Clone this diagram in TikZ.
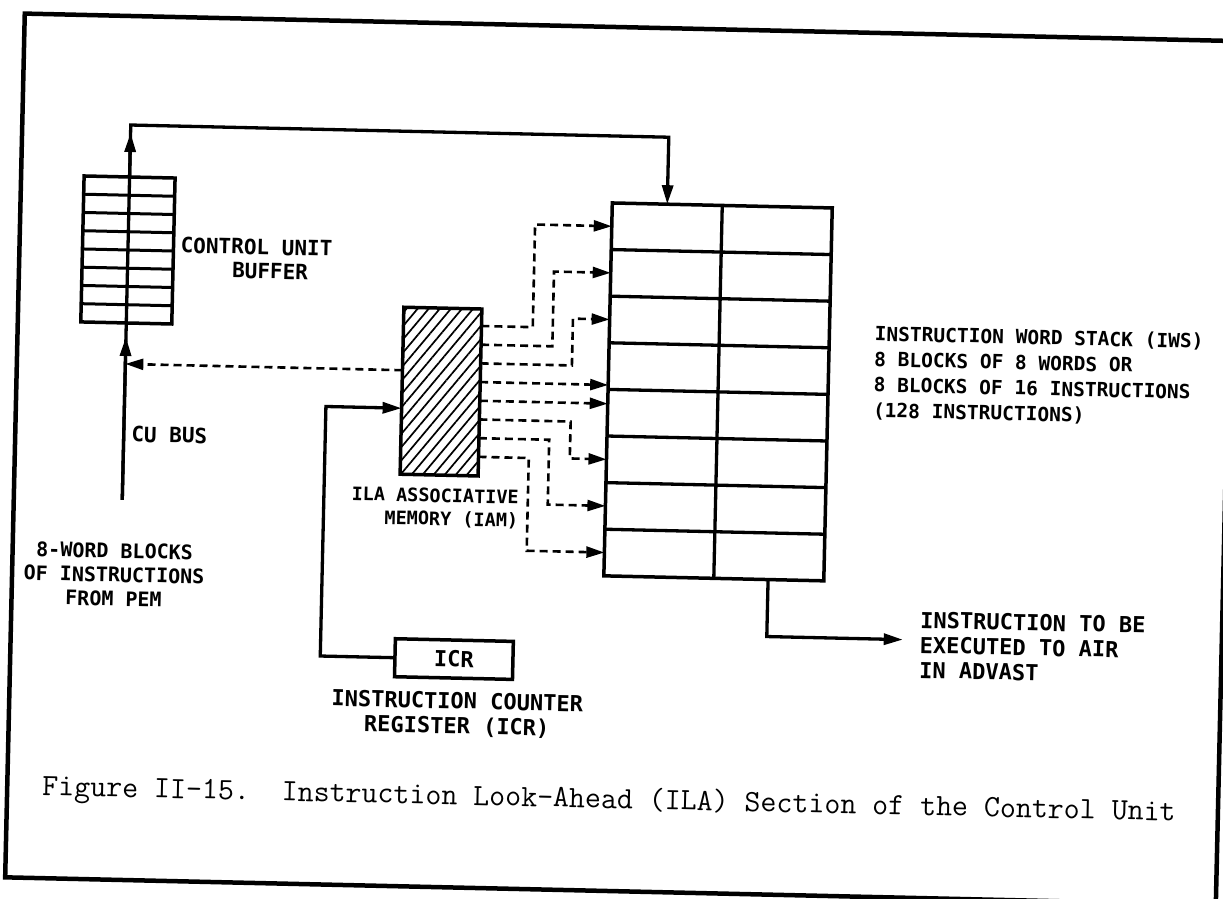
\documentclass[tikz,border=0pt]{standalone}
\usepackage{fontspec}
\usetikzlibrary{arrows.meta,patterns.meta,calc}
\newfontfamily\lettering{DejaVu Sans Mono}
\begin{document}
\begin{tikzpicture}[x=1pt,y=-1pt,
  box/.style={draw, line width=3.5pt, inner sep=0pt, outer sep=0pt},
  conn/.style={line width=3.3pt},
  tipa/.style={-{Triangle[length=19pt,width=11pt]}},
  dconn/.style={line width=2.6pt, dash pattern=on 8pt off 5pt, -{Triangle[length=18pt,width=11pt]}},
  lab/.style={font=\lettering\bfseries\fontsize{21}{24}\selectfont, inner sep=0pt, align=center},
  labs/.style={font=\lettering\bfseries\fontsize{19.5}{25.5}\selectfont, inner sep=0pt, align=left},
  labm/.style={font=\lettering\bfseries\fontsize{18.5}{23}\selectfont, inner sep=0pt},
  labb/.style={font=\lettering\bfseries\fontsize{22}{25}\selectfont, inner sep=0pt},
]
\useasboundingbox (0,0) rectangle (1223,899);
\fill[white] (0,0) rectangle (1223,899);
\begin{scope}[rotate around={-1.3:(612,450)}, transform shape]
  % frame
  \draw[line width=4.5pt] (15,891) -- (15,27) -- (1226,27) -- (1226,891) -- cycle;

  % control unit buffer
  \node[box, minimum width=91pt, minimum height=146pt] (buf) at (123.5,261) {};
  \foreach \k in {1,...,7}
    \draw[line width=3pt] ($(buf.north west)+(0,\k*18.25)$) -- ($(buf.north east)+(0,\k*18.25)$);
  \draw[conn] (buf.north) -- (buf.south);

  % instruction word stack
  \node[box, minimum width=220pt, minimum height=373pt] (iws) at (716.7,389.5) {};
  \foreach \k in {1,...,7}
    \draw[line width=3.3pt] ($(iws.north west)+(0,\k*46.625)$) -- ($(iws.north east)+(0,\k*46.625)$);
  \draw[conn] (iws.north) -- (iws.south);

  % associative memory
  \node[box, minimum width=78pt, minimum height=167pt,
        pattern={Lines[angle=50,distance=8.5pt,line width=1.7pt]}] (iam) at (439.7,395.5) {};

  % instruction counter register
  \node[box, labb, minimum width=118pt, minimum height=38pt] (icr) at (458.7,662.6) {ICR};

  % labels
  \node[lab, anchor=west] (bufl) at (176,255) {CONTROL UNIT};
  \node[lab, anchor=west] (bufl2) at (228,279) {BUFFER};
  \node[lab, anchor=west] (cubus) at (131,445) {CU BUS};
  \node[lab, font=\lettering\bfseries\fontsize{20}{24}\selectfont] (peml) at (117,586) {8-WORD BLOCKS\\OF INSTRUCTIONS\\FROM PEM};
  \node[labm, align=right, anchor=east] (iaml) at (520,512) {ILA ASSOCIATIVE\\MEMORY (IAM)};
  \node[labb, align=center] (icrl) at (463,718) {INSTRUCTION COUNTER\\REGISTER (ICR)};
  \node[labs, anchor=west] (iwsl) at (872,367) {INSTRUCTION WORD STACK (IWS)\\8 BLOCKS OF 8 WORDS OR\\8 BLOCKS OF 16 INSTRUCTIONS\\(128 INSTRUCTIONS)};
  \node[labb, align=left, anchor=west] (outl) at (924,638) {INSTRUCTION TO BE\\EXECUTED TO AIR\\IN ADVAST};
  \node[anchor=west, inner sep=0pt, font=\ttfamily\fontsize{31}{31}\selectfont] (cap) at (50,801)
    {Figure II-15.~~Instruction Look-Ahead (ILA) Section of the Control Unit};

  % CU bus into buffer
  \coordinate (busstart) at (123.5,511);
  \draw[conn] (busstart) -- (buf.south);
  \draw[conn, tipa] (busstart) -- ($(buf.south)+(0,14)$);

  % buffer to IWS
  \coordinate (tl) at (123.5,136);
  \coordinate (iwsin) at ($(iws.north west)+(55,0)$);
  \draw[conn, tipa] (buf.north) -- (buf.north |- tl) -- (iwsin |- tl) -- (iwsin);
  \draw[conn, tipa] (buf.north) -- ($(buf.north)+(0,-44)$);

  % IAM to buffer bus (dashed)
  \coordinate (dl) at ($(iam.north west)+(0,63)$);
  \draw[dconn] (dl) -- (dl -| buf.south);

  % ICR to IAM
  \coordinate (iin) at ($(iam.north west)+(0,101)$);
  \coordinate (jx) at (325,0);
  \draw[conn, tipa] (icr.west) -- (icr.west -| jx) -- (jx |- iin) -- (iin);

  % IAM to IWS rows (dashed)
  \foreach \k in {1,...,8}
    \coordinate (s\k) at ($(iam.north east)+(0,17+\k*18.7-18.7)$);
  \foreach \r in {1,2,3,6,7,8}
    \coordinate (t\r) at ($(iws.north west)+(0,23.3+\r*46.625-46.625)$);
  \coordinate (j1) at (530,0);
  \coordinate (j2) at (550,0);
  \coordinate (j3) at (570,0);
  \coordinate (j6) at (570,0);
  \coordinate (j7) at (549,0);
  \coordinate (j8) at (529,0);
  \foreach \r in {1,2,3,6,7,8}
    \draw[dconn] (s\r) -- (s\r -| j\r) -- (j\r |- t\r) -- (t\r);
  \draw[dconn] (s4) -- (s4 -| iws.west);
  \draw[dconn] (s5) -- (s5 -| iws.west);

  % IWS output
  \coordinate (ox) at (771,0);
  \coordinate (outtip) at (907,633);
  \draw[conn, tipa] (iws.south -| ox) -- (ox |- outtip) -- (outtip);
\end{scope}
\end{tikzpicture}
\end{document}
